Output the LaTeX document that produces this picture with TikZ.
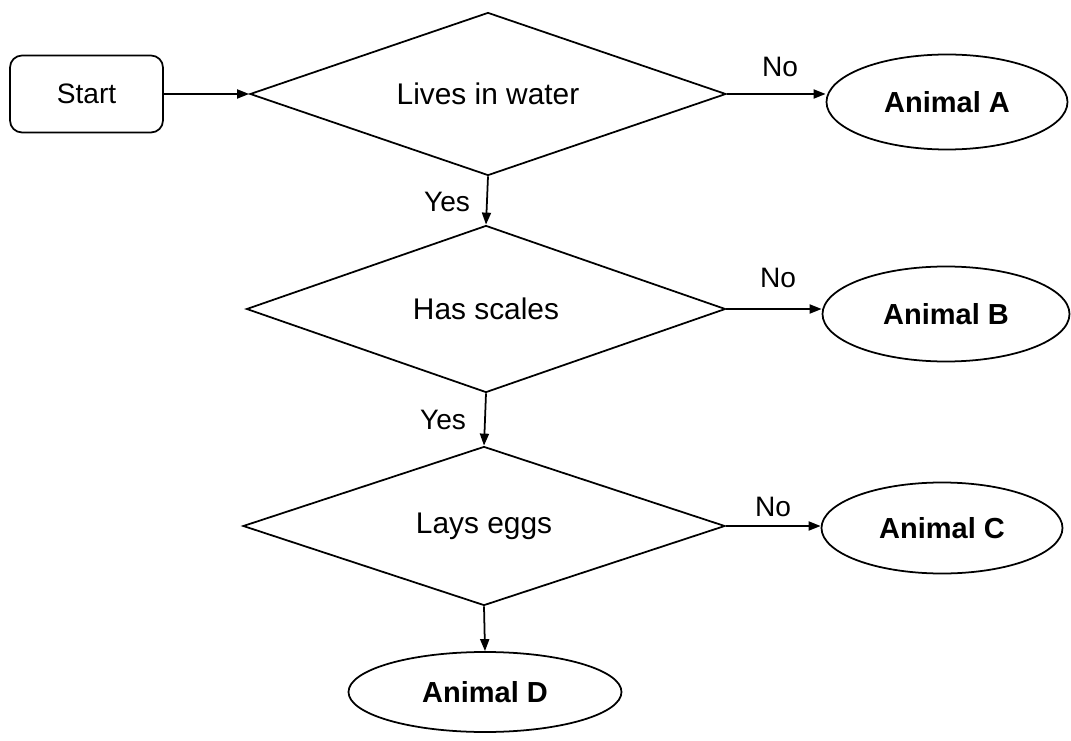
\documentclass[tikz,border=0pt]{standalone}
\usepackage{fontspec}
\setmainfont{Liberation Sans}
\usetikzlibrary{arrows.meta,shapes.geometric}

\begin{document}
\begin{tikzpicture}[
  font=\fontsize{17}{20}\selectfont,
  flow/.style={-{Triangle[length=2.4mm,width=1.8mm]},draw=black,line width=1pt},
  startbox/.style={draw=black,line width=1pt,rounded corners=2.4mm,minimum width=3.06cm,minimum height=1.54cm,inner sep=0pt,font=\fontsize{16}{20}\selectfont},
  test/.style={diamond,draw=black,line width=1pt,aspect=2.9,inner sep=0pt},
  leaf/.style={ellipse,draw=black,line width=1pt,inner sep=0pt,font=\fontsize{16.5}{20}\selectfont\bfseries},
  tag/.style={font=\fontsize{16}{20}\selectfont,text=black},
]
\useasboundingbox (0,0) rectangle (21.42,14.8);
\node[startbox] (start) at (1.73,12.92) {Start};
\node[test,minimum width=9.52cm,minimum height=3.26cm] (water) at (9.76,12.92) {Lives in water};
\node[test,minimum width=9.58cm,minimum height=3.34cm] (scales) at (9.72,8.62) {Has scales};
\node[test,minimum width=9.64cm,minimum height=3.18cm] (eggs) at (9.68,4.28) {Lays eggs};
\node[leaf,minimum width=4.82cm,minimum height=1.9cm] (animA) at (18.94,12.76) {Animal A};
\node[leaf,minimum width=4.94cm,minimum height=1.9cm] (animB) at (18.92,8.52) {Animal B};
\node[leaf,minimum width=4.82cm,minimum height=1.82cm] (animC) at (18.84,4.24) {Animal C};
\node[leaf,minimum width=5.46cm,minimum height=1.6cm] (animD) at (9.7,0.96) {Animal D};
\draw[flow] (start.east) -- (water.west);
\foreach \q/\a in {water/animA,scales/animB,eggs/animC}{\draw[flow] (\q.east) -- (\q.east -| \a.west);}
\draw[flow] (water.south) -- (scales.north);
\draw[flow] (scales.south) -- (eggs.north);
\draw[flow] (eggs.south) -- (animD.north);
\node[tag] (noA) at (15.6,13.46) {No};
\node[tag] (noB) at (15.56,9.24) {No};
\node[tag] (noC) at (15.46,4.66) {No};
\node[tag] (yesA) at (8.94,10.76) {Yes};
\node[tag] (yesB) at (8.86,6.4) {Yes};
\end{tikzpicture}
\end{document}
